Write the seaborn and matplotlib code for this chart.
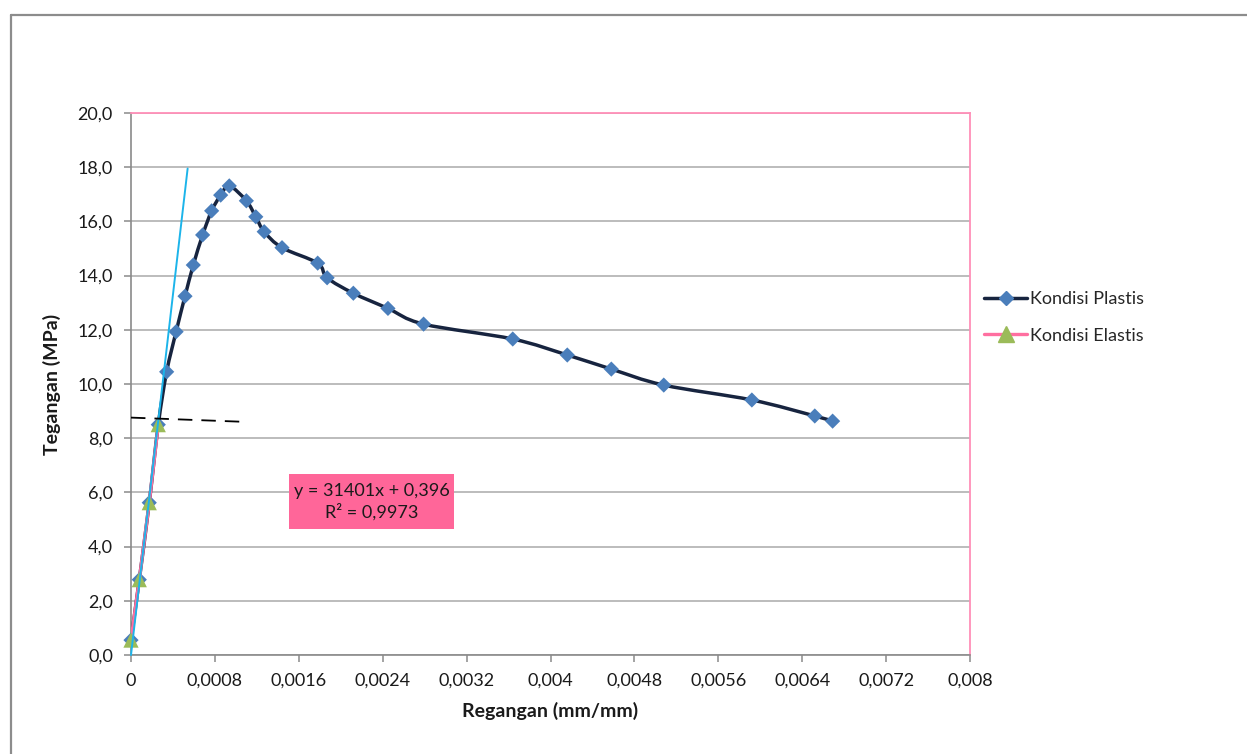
import numpy as np
import pandas as pd
import matplotlib
matplotlib.use("Agg")
import matplotlib.pyplot as plt
from matplotlib.path import Path
from matplotlib.patches import PathPatch, Rectangle
from matplotlib.lines import Line2D
import seaborn as sns

# Stress-strain test data
plastis_strain = [0.0, 0.000079, 0.000174, 0.00026, 0.00034, 0.00043, 0.000515,
                  0.000594, 0.000683, 0.000769, 0.000855, 0.000937, 0.0011,
                  0.00119, 0.00127, 0.00144, 0.00178, 0.00187, 0.00212, 0.00245,
                  0.00279, 0.00364, 0.00416, 0.00458, 0.00508, 0.00592, 0.00652,
                  0.00669]
plastis_stress = [0.55, 2.78, 5.62, 8.5, 10.45, 11.93, 13.24, 14.39, 15.5, 16.39,
                  16.97, 17.31, 16.76, 16.17, 15.62, 15.03, 14.46, 13.92, 13.35,
                  12.79, 12.21, 11.66, 11.07, 10.55, 9.96, 9.41, 8.82, 8.63]

elastis_strain = [0.0, 0.000079, 0.000174, 0.00026]
elastis_stress = [0.55, 2.78, 5.62, 8.5]

# Tangent (modulus) line and yield reference line
tangent_strain = [0.0, 0.00054]
tangent_stress = [0.0, 17.95]
yield_strain = [0.0, 0.00104]
yield_stress = [8.76, 8.61]

trend_label = "y = 31401x + 0,396\nR² = 0,9973"

x_ticks = [0, 0.0008, 0.0016, 0.0024, 0.0032, 0.004, 0.0048, 0.0056, 0.0064, 0.0072, 0.008]
x_tick_labels = ["0", "0,0008", "0,0016", "0,0024", "0,0032", "0,004", "0,0048",
                 "0,0056", "0,0064", "0,0072", "0,008"]
y_ticks = np.arange(0, 21, 2)
y_tick_labels = [f"{v:.1f}".replace(".", ",") for v in y_ticks]

NAVY = "#17243F"
DIAMOND = "#4A7EBB"
GREEN = "#9BBB59"
PINK = "#FF6FA0"
BOX_PINK = "#FF6699"
SKY = "#1CB4EA"
GRID = "#B0B0B0"
AXIS = "#8A8A8A"
TEXT = "#1a1a1a"
FS = 13

sns.set_theme(style="white")
plt.rcParams["font.family"] = ["Lato", "DejaVu Sans"]

fig = plt.figure(figsize=(12.47, 7.54), dpi=100)
ax = fig.add_axes([131 / 1247, 1 - 655 / 754, (970 - 131) / 1247, (655 - 113) / 754])

ax.set_xlim(0, 0.008)
ax.set_ylim(0, 20)

# horizontal gridlines
ax.yaxis.grid(True, color=GRID, linewidth=1.2)
ax.xaxis.grid(False)
ax.set_axisbelow(True)


def smooth_path(xs, ys):
    """Catmull-Rom style Bezier path through the given points."""
    pts = np.column_stack([xs, ys])
    n = len(pts)
    verts = [pts[0]]
    codes = [Path.MOVETO]
    for i in range(n - 1):
        p0 = pts[i - 1] if i > 0 else pts[i]
        p1 = pts[i]
        p2 = pts[i + 1]
        p3 = pts[i + 2] if i + 2 < n else pts[i + 1]
        c1 = p1 + (p2 - p0) / 6.0
        c2 = p2 - (p3 - p1) / 6.0
        verts += [c1, c2, p2]
        codes += [Path.CURVE4] * 3
    return Path(verts, codes)


# Plastic curve (smoothed line) with diamond markers
ax.add_patch(PathPatch(smooth_path(plastis_strain, plastis_stress), facecolor="none",
                       edgecolor=NAVY, linewidth=2.5, zorder=3, capstyle="round",
                       joinstyle="round"))
df_p = pd.DataFrame({"strain": plastis_strain, "stress": plastis_stress})
sns.scatterplot(data=df_p, x="strain", y="stress", marker="D", s=60, color=DIAMOND,
                edgecolor="none", linewidth=0, ax=ax, zorder=4, legend=False,
                clip_on=False)

# Elastic part
df_e = pd.DataFrame({"strain": elastis_strain, "stress": elastis_stress})
sns.lineplot(data=df_e, x="strain", y="stress", sort=False, color=PINK, linewidth=2.4,
             ax=ax, zorder=5, legend=False)
sns.scatterplot(data=df_e, x="strain", y="stress", marker="^", s=120, color=GREEN,
                edgecolor="none", linewidth=0, ax=ax, zorder=6, legend=False,
                clip_on=False)

# Tangent and yield lines
ax.plot(tangent_strain, tangent_stress, color=SKY, linewidth=1.4, zorder=7, clip_on=False)
ax.plot(yield_strain, yield_stress, color="black", linewidth=1.3, dashes=(8, 5), zorder=7)

# Trendline equation box
ax.add_patch(Rectangle((0.001506, 4.65), 0.003079 - 0.001506, 6.68 - 4.65,
                       facecolor=BOX_PINK, edgecolor="none", zorder=8))
ax.text((0.001506 + 0.003079) / 2, (4.65 + 6.68) / 2, trend_label, ha="center",
        va="center", fontsize=FS, color=TEXT, zorder=9, linespacing=1.3)

# Axes styling
for side in ["top", "right"]:
    ax.spines[side].set_color("#FF8FB8")
    ax.spines[side].set_linewidth(1.3)
for side in ["left", "bottom"]:
    ax.spines[side].set_color(AXIS)
    ax.spines[side].set_linewidth(1.2)

ax.set_xticks(x_ticks)
ax.set_xticklabels(x_tick_labels)
ax.set_yticks(y_ticks)
ax.set_yticklabels(y_tick_labels)
ax.tick_params(axis="both", which="major", length=5, width=1.1, color=AXIS,
               labelsize=FS, labelcolor=TEXT, direction="out",
               bottom=True, left=True)
ax.tick_params(axis="x", pad=8)
ax.tick_params(axis="y", pad=8)

ax.set_xlabel("Regangan (mm/mm)", fontsize=14, fontweight="bold", color=TEXT,
              labelpad=9)
ax.set_ylabel("Tegangan (MPa)", fontsize=14, fontweight="bold", color=TEXT,
              labelpad=12)

# Legend
handles = [
    Line2D([], [], color=NAVY, linewidth=2.5, marker="D", markersize=7.5,
           markerfacecolor=DIAMOND, markeredgecolor=DIAMOND),
    Line2D([], [], color=PINK, linewidth=2.4, marker="^", markersize=11,
           markerfacecolor=GREEN, markeredgecolor=GREEN),
]
fig.legend(handles, ["Kondisi Plastis", "Kondisi Elastis"], loc="upper left",
           bbox_to_anchor=(984 / 1247, 1 - 291 / 754), frameon=False,
           fontsize=FS, handlelength=2.4, handletextpad=0.12, labelspacing=1.15,
           borderpad=0, borderaxespad=0)

# Chart frame
fig.add_artist(Line2D([11 / 1247, 11 / 1247], [0, 1 - 15 / 754], color="#8C8C8C",
                      linewidth=1.6, transform=fig.transFigure))
fig.add_artist(Line2D([11 / 1247, 1], [1 - 15 / 754, 1 - 15 / 754], color="#8C8C8C",
                      linewidth=1.6, transform=fig.transFigure))

fig.savefig("out.png", dpi=100, facecolor="white")
